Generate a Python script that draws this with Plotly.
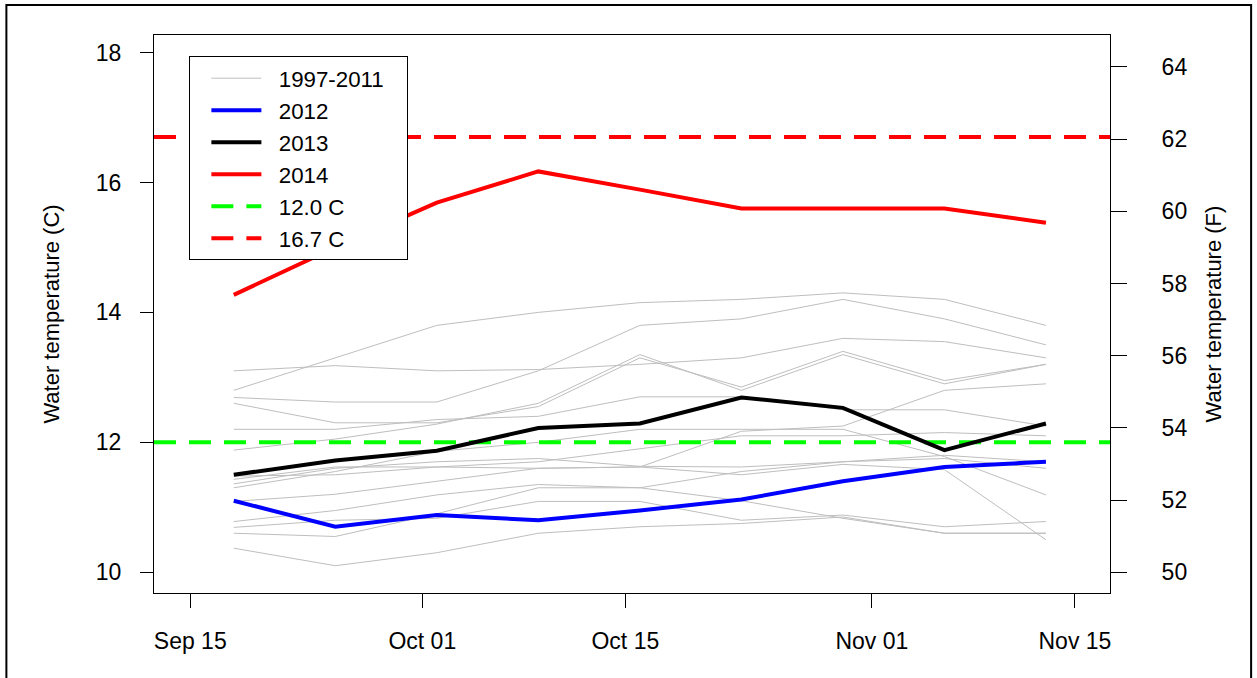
import plotly.graph_objects as go

# ---------------- data ----------------
dates = ["2014-09-18", "2014-09-25", "2014-10-02", "2014-10-09", "2014-10-16",
         "2014-10-23", "2014-10-30", "2014-11-06", "2014-11-13"]

t1997 = [12.80, 13.30, 13.80, 14.00, 14.15, 14.20, 14.30, 14.20, 13.80]
t1998 = [13.10, 13.18, 13.10, 13.12, 13.20, 13.30, 13.60, 13.55, 13.30]
t1999 = [12.69, 12.62, 12.62, 13.10, 13.80, 13.90, 14.20, 13.90, 13.50]
t2000 = [12.60, 12.30, 12.30, 12.55, 13.30, 12.85, 13.40, 12.95, 13.20]
t2001 = [11.88, 12.05, 12.28, 12.60, 13.35, 12.80, 13.35, 12.90, 13.20]
t2002 = [12.20, 12.20, 12.35, 12.40, 12.70, 12.70, 12.50, 12.50, 12.25]
t2003 = [11.43, 11.62, 11.62, 11.60, 11.62, 12.17, 12.25, 12.80, 12.90]
t2004 = [11.36, 11.60, 11.70, 11.75, 11.63, 11.62, 11.70, 11.80, 11.70]
t2005 = [11.30, 11.55, 11.86, 12.00, 12.20, 12.20, 12.20, 11.78, 11.19]
t2006 = [11.09, 11.20, 11.40, 11.60, 11.62, 11.50, 11.66, 11.58, 10.50]
t2007 = [10.78, 10.95, 11.19, 11.35, 11.30, 11.55, 11.70, 11.75, 11.60]
t2008 = [10.69, 10.80, 10.83, 11.09, 11.09, 10.80, 10.88, 10.70, 10.78]
t2009 = [10.60, 10.55, 10.90, 11.30, 11.30, 11.10, 10.83, 10.60, 10.60]
t2010 = [10.37, 10.10, 10.30, 10.60, 10.70, 10.75, 10.85, 10.60, 10.60]
t2011 = [11.48, 11.50, 11.62, 11.70, 11.90, 12.10, 12.10, 12.15, 12.10]
hist_series = [t1997, t1998, t1999, t2000, t2001, t2002, t2003, t2004,
               t2005, t2006, t2007, t2008, t2009, t2010, t2011]

t2012 = [11.10, 10.70, 10.88, 10.80, 10.95, 11.12, 11.40, 11.62, 11.70]
t2013 = [11.50, 11.72, 11.87, 12.22, 12.29, 12.69, 12.53, 11.88, 12.29]
t2014 = [14.27, 15.00, 15.69, 16.17, 15.89, 15.60, 15.60, 15.60, 15.38]

threshold_low = 12.0
threshold_high = 16.7

x_range = ["2014-09-12 12:00", "2014-11-17 10:00"]
y_range_c = [9.68, 18.27]

x_tickvals = ["2014-09-15", "2014-10-01", "2014-10-15", "2014-11-01", "2014-11-15"]
x_ticktext = ["Sep 15", "Oct 01", "Oct 15", "Nov 01", "Nov 15"]
y_ticks_c = [10, 12, 14, 16, 18]
y_ticks_f = [50, 52, 54, 56, 58, 60, 62, 64]

# ---------------- figure ----------------
FONT = "Arial, Liberation Sans, sans-serif"
NB = "\u00a0"
fig = go.Figure()

for i, s in enumerate(hist_series):
    fig.add_trace(go.Scatter(
        x=dates, y=s, mode="lines", line=dict(color="#bebebe", width=1),
        name=NB * 2 + "1997-2011" + NB * 3, legendgroup="hist", showlegend=(i == 0),
        legendrank=1, hoverinfo="skip"))

fig.add_trace(go.Scatter(
    x=x_range, y=[threshold_low, threshold_low], mode="lines",
    line=dict(color="#00ff00", width=4, dash="22px,13px"),
    name=NB * 2 + "12.0 C", legendrank=5))
fig.add_trace(go.Scatter(
    x=x_range, y=[threshold_high, threshold_high], mode="lines",
    line=dict(color="#ff0000", width=4, dash="22px,13px"),
    name=NB * 2 + "16.7 C", legendrank=6))

fig.add_trace(go.Scatter(x=dates, y=t2012, mode="lines",
                         line=dict(color="#0000ff", width=4), name=NB * 2 + "2012",
                         legendrank=2))
fig.add_trace(go.Scatter(x=dates, y=t2013, mode="lines",
                         line=dict(color="#000000", width=4), name=NB * 2 + "2013",
                         legendrank=3))
fig.add_trace(go.Scatter(x=dates, y=t2014, mode="lines",
                         line=dict(color="#ff0000", width=4), name=NB * 2 + "2014",
                         legendrank=4))

# invisible trace to activate the right (F) axis
fig.add_trace(go.Scatter(x=[dates[0]], y=[y_range_c[0] * 1.8 + 32], yaxis="y2",
                         mode="markers", marker=dict(opacity=0), showlegend=False,
                         hoverinfo="skip"))

fig.update_layout(
    width=1257, height=678,
    margin=dict(l=154, r=147, t=35, b=85),
    paper_bgcolor="white", plot_bgcolor="white",
    font=dict(family=FONT, size=23, color="black"),
    showlegend=True,
    legend=dict(x=0.037, y=0.962, xanchor="left", yanchor="top",
                bordercolor="black", borderwidth=1, bgcolor="white",
                font=dict(size=22.3), itemwidth=50, indentation=16,
                tracegroupgap=0),
    xaxis=dict(type="date", range=x_range, tickvals=x_tickvals, ticktext=x_ticktext,
               showgrid=False, zeroline=False, showline=True, mirror=True,
               linecolor="black", linewidth=1, ticks="outside", ticklen=14,
               tickcolor="black", ticklabelstandoff=13),
    yaxis=dict(range=y_range_c, tickvals=y_ticks_c, showgrid=False, zeroline=False,
               showline=True, mirror=True, linecolor="black", linewidth=1,
               ticks="outside", ticklen=13, tickcolor="black", ticklabelstandoff=14,
               title=dict(text="Water temperature (C)", standoff=30,
                          font=dict(size=22))),
    yaxis2=dict(range=[y_range_c[0] * 1.8 + 32, y_range_c[1] * 1.8 + 32],
                tickvals=y_ticks_f, overlaying="y", side="right",
                showgrid=False, zeroline=False, showline=False,
                ticks="outside", ticklen=16, tickcolor="black", ticklabelstandoff=30,
                title=dict(text="Water temperature (F)", standoff=19,
                           font=dict(size=22))),
    shapes=[dict(type="rect", xref="paper", yref="paper",
                 x0=-0.1544, x1=1.1476, y0=-0.2, y1=1.0537,
                 line=dict(color="black", width=2), fillcolor="rgba(0,0,0,0)",
                 layer="above")],
)

fig.write_html("out.html", config={"displayModeBar": False},
               post_script="document.body.style.margin='0px';")
